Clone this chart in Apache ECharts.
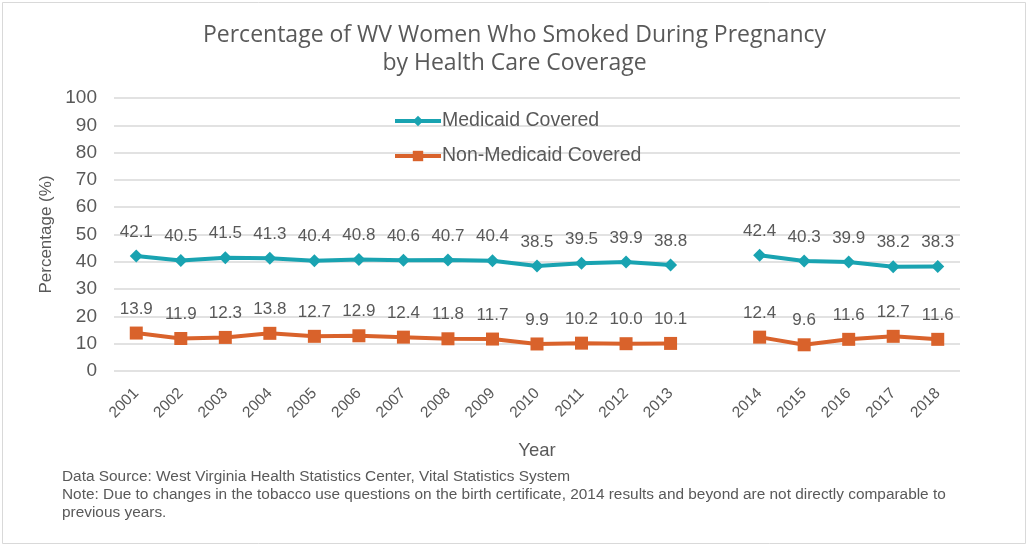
<!DOCTYPE html>
<html>
<head>
<meta charset="utf-8">
<script src="https://cdn.jsdelivr.net/npm/echarts@6/dist/echarts.min.js"></script>
<style>
  html, body { margin: 0; padding: 0; background: #fff; }
  #chart { width: 1029px; height: 546px; }
</style>
</head>
<body>
<div id="chart"></div>
<script>
// categories: blank slot between 2013 and 2014 (break in series)
var years = ['2001', '2002', '2003', '2004', '2005', '2006', '2007', '2008', '2009', '2010',
             '2011', '2012', '2013', '', '2014', '2015', '2016', '2017', '2018'];
var medicaid = [42.1, 40.5, 41.5, 41.3, 40.4, 40.8, 40.6, 40.7, 40.4, 38.5,
                39.5, 39.9, 38.8, null, 42.4, 40.3, 39.9, 38.2, 38.3];
var nonMedicaid = [13.9, 11.9, 12.3, 13.8, 12.7, 12.9, 12.4, 11.8, 11.7, 9.9,
                   10.2, 10.0, 10.1, null, 12.4, 9.6, 11.6, 12.7, 11.6];
var notes = [
    'Data Source: West Virginia Health Statistics Center, Vital Statistics System',
    'Note: Due to changes in the tobacco use questions on the birth certificate, 2014 results and beyond are not directly comparable to',
    'previous years.'
];

var textColor = '#595959';
var font = '"Liberation Sans", Arial, sans-serif';

function initChart(con) {
    var chart = echarts.init(document.getElementById(con));
    var labelOpt = {
        show: true,
        position: 'top',
        distance: 9,
        color: textColor,
        fontSize: 17,
        fontFamily: font,
        formatter: function (p) { return p.value == null ? '' : Number(p.value).toFixed(1); }
    };
    var option = {
        backgroundColor: '#fff',
        animation: false,
        title: {
            text: 'Percentage of WV Women Who Smoked During Pregnancy\nby Health Care Coverage',
            left: 'center',
            top: 16,
            textStyle: {
                color: textColor,
                fontSize: 23,
                fontWeight: 'normal',
                fontFamily: '"Open Sans", sans-serif',
                lineHeight: 28
            }
        },
        legend: {
            orient: 'vertical',
            left: 393,
            top: 111,
            padding: 0,
            itemGap: 15,
            itemWidth: 46,
            itemHeight: 13,
            lineStyle: { width: 4 },
            textStyle: { color: textColor, fontSize: 19.5, fontFamily: font, padding: [0, 0, 0, -4] },
            data: ['Medicaid Covered', 'Non-Medicaid Covered']
        },
        grid: {
            left: 114,
            right: 69,
            top: 98,
            bottom: 175
        },
        xAxis: {
            type: 'category',
            data: years,
            name: 'Year',
            nameLocation: 'middle',
            nameGap: 70,
            nameTextStyle: { color: textColor, fontSize: 18.5, fontFamily: font },
            axisLine: { show: false },
            axisTick: { show: false },
            axisLabel: {
                rotate: 45,
                margin: 20,
                color: textColor,
                fontSize: 15.5,
                fontFamily: font
            }
        },
        yAxis: {
            type: 'value',
            min: 0,
            max: 100,
            interval: 10,
            name: 'Percentage (%)',
            nameLocation: 'middle',
            nameGap: 52,
            nameTextStyle: { color: textColor, fontSize: 17, fontFamily: font },
            axisLine: { show: false },
            axisTick: { show: false },
            axisLabel: { color: textColor, fontSize: 19, fontFamily: font, margin: 17 },
            splitLine: { lineStyle: { color: '#d9d9d9', width: 1.5 } }
        },
        series: [
            {
                name: 'Medicaid Covered',
                type: 'line',
                data: medicaid,
                connectNulls: false,
                symbol: 'diamond',
                symbolSize: 13,
                itemStyle: { color: '#19a3b1' },
                lineStyle: { color: '#19a3b1', width: 4 },
                label: labelOpt
            },
            {
                name: 'Non-Medicaid Covered',
                type: 'line',
                data: nonMedicaid,
                connectNulls: false,
                symbol: 'rect',
                symbolSize: 13,
                itemStyle: { color: '#d9622b' },
                lineStyle: { color: '#d9622b', width: 4 },
                label: labelOpt
            }
        ],
        graphic: [
            {
                type: 'rect',
                shape: { x: 2.5, y: 2.5, width: 1023, height: 541 },
                style: { fill: 'none', stroke: '#d9d9d9', lineWidth: 1 },
                silent: true
            },
            {
                type: 'text',
                left: 62,
                top: 468,
                style: {
                    text: notes.join('\n'),
                    fill: textColor,
                    fontSize: 15.4,
                    fontFamily: font,
                    lineHeight: 18
                }
            }
        ]
    };
    chart.setOption(option);
}
initChart('chart');
</script>
</body>
</html>
